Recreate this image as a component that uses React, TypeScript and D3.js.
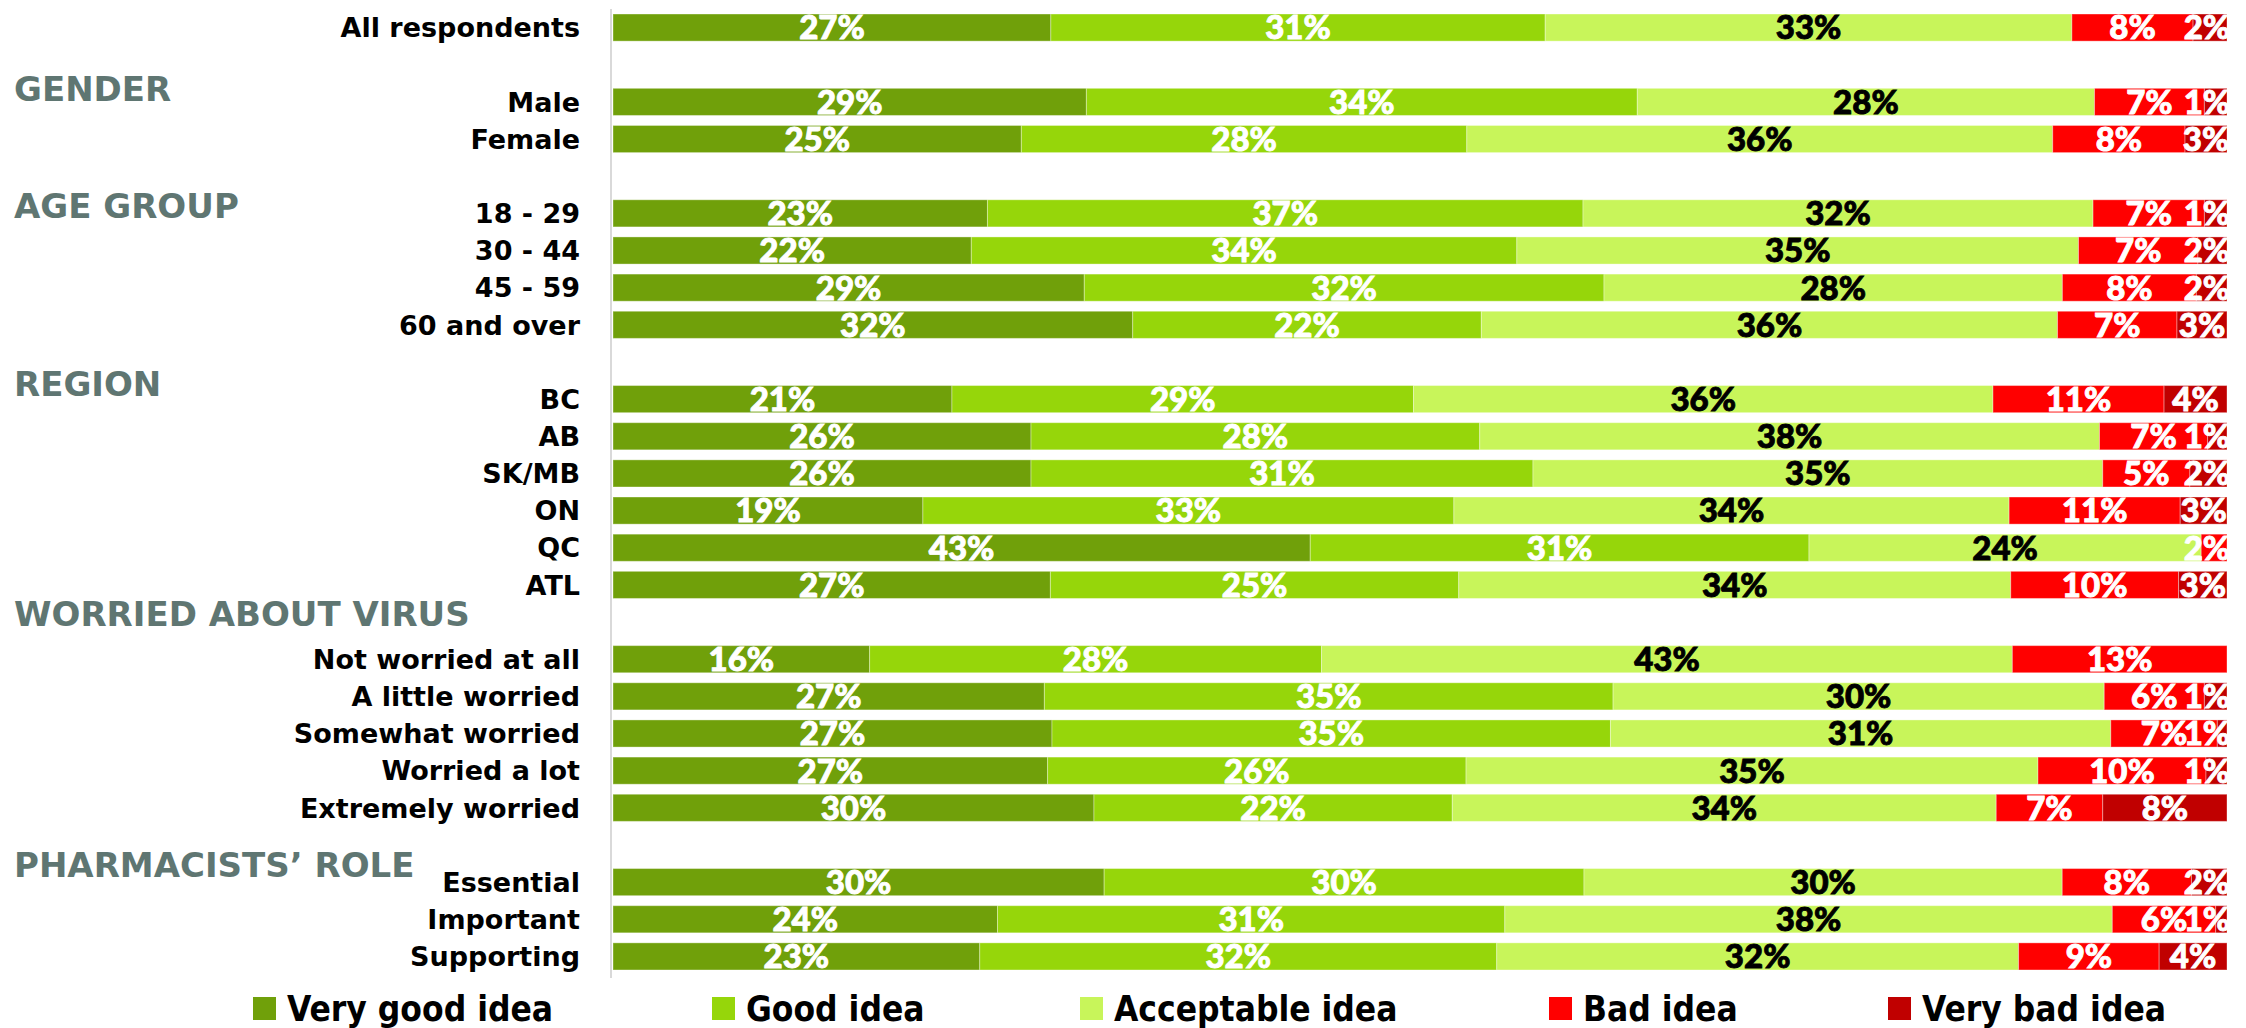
import React from 'react';
import * as d3 from 'd3';

// ---------- DATA ----------
// null = empty spacer row (section header rows)
const categories: (string | null)[] = [
  'All respondents', null, 'Male', 'Female', null,
  '18 - 29', '30 - 44', '45 - 59', '60 and over', null,
  'BC', 'AB', 'SK/MB', 'ON', 'QC', 'ATL', null,
  'Not worried at all', 'A little worried', 'Somewhat worried', 'Worried a lot', 'Extremely worried', null,
  'Essential', 'Important', 'Supporting',
];

const veryGood = [27.1, null, 29.3, 25.3, null, 23.2, 22.2, 29.2, 32.2, null, 21.0, 25.9, 25.9, 19.2, 43.2, 27.1, null, 15.9, 26.7, 27.2, 26.9, 29.8, null, 30.4, 23.8, 22.7];
const good = [30.6, null, 34.1, 27.6, null, 36.9, 33.8, 32.2, 21.6, null, 28.6, 27.8, 31.1, 32.9, 30.9, 25.3, null, 28.0, 35.2, 34.6, 25.9, 22.2, null, 29.7, 31.4, 32.0];
const acceptable = [32.6, null, 28.3, 36.3, null, 31.6, 34.8, 28.4, 35.7, null, 35.9, 38.4, 35.3, 34.4, 24.3, 34.2, null, 42.8, 30.4, 31.0, 35.4, 33.7, null, 29.6, 37.6, 32.3];
const bad = [7.5, null, 6.8, 8.2, null, 6.9, 7.4, 8.3, 7.4, null, 10.6, 6.7, 5.4, 10.6, 1.6, 10.4, null, 13.3, 6.2, 6.6, 10.4, 6.6, null, 8.0, 6.4, 8.7];
const veryBad = [2.1, null, 1.4, 2.6, null, 1.4, 1.8, 1.9, 3.1, null, 3.9, 1.2, 2.3, 2.9, 0, 3.0, null, 0, 1.4, 0.6, 1.3, 7.7, null, 2.2, 0.7, 4.2];

const seriesNames = ['Very good idea', 'Good idea', 'Acceptable idea', 'Bad idea', 'Very bad idea'];
const seriesValues = [veryGood, good, acceptable, bad, veryBad];

// section headers: label and position (in row units from the first row)
const headers = [
  { label: 'GENDER', at: 1.66 },
  { label: 'AGE GROUP', at: 4.8 },
  { label: 'REGION', at: 9.6 },
  { label: 'WORRIED ABOUT VIRUS', at: 15.78 },
  { label: 'PHARMACISTS\u2019 ROLE', at: 22.54 },
];

// ---------- STYLE / LAYOUT ----------
const colors = ['#70A00A', '#96D60A', '#C8F55A', '#FF0000', '#C00000'];
const textColors = ['#ffffff', '#ffffff', '#000000', '#ffffff', '#ffffff'];
const W = 2246;
const H = 1028;
const plotLeft = 613;
const plotRight = 2227;
const plotTop = 9;
const plotBottom = 975;
const legendX = [253, 712, 1080, 1549, 1888];
const legendY = 1008;
const FONT = "'DejaVu Sans', 'Open Sans', sans-serif";
const LABEL_FONT = "Lato, 'Open Sans', sans-serif";

export default function App() {
  const rows = categories.map((c, i) => ({ idx: i, name: c }));
  const y = d3
    .scaleBand<number>()
    .domain(rows.map((r) => r.idx))
    .range([plotTop, plotBottom])
    .paddingInner(0.27)
    .paddingOuter(0.135);
  const x = d3.scaleLinear().domain([0, 1]).range([plotLeft, plotRight]);

  const table = rows
    .filter((r) => r.name !== null)
    .map((r) => {
      const o: any = { idx: r.idx, name: r.name };
      seriesNames.forEach((s, k) => (o[s] = seriesValues[k][r.idx] as number));
      return o;
    });
  const stacked = d3.stack<any>().keys(seriesNames).offset(d3.stackOffsetExpand)(table);

  const bw = y.bandwidth();
  const step = y.step();
  const firstCenter = (y(0) as number) + bw / 2;
  const labelSize = 33;

  return (
    <svg width={W} height={H} style={{ position: 'absolute', left: 0, top: 0, background: '#fff' }}>
      <defs>
        <clipPath id="plotClip">
          <rect x={0} y={0} width={plotRight + 1} height={H} />
        </clipPath>
      </defs>
      {/* axis line */}
      <line x1={plotLeft - 2} x2={plotLeft - 2} y1={plotTop} y2={plotBottom + 3} stroke="#d9d9d9" strokeWidth={2} />

      {/* bars */}
      {stacked.map((layer, k) => (
        <g key={layer.key} fill={colors[k]}>
          {layer.map((d) => {
            const v = d.data[layer.key as string];
            if (!v) return null;
            return (
              <rect
                key={d.data.idx}
                x={x(d[0])}
                y={y(d.data.idx)}
                width={Math.max(0, x(d[1]) - x(d[0]))}
                height={bw}
                stroke="rgba(255,255,255,0.35)"
                strokeWidth={1}
              />
            );
          })}
        </g>
      ))}

      {/* data labels */}
      <g clipPath="url(#plotClip)" fontFamily={LABEL_FONT} fontWeight={900} fontSize={labelSize} textAnchor="middle">
        {stacked.map((layer, k) =>
          layer.map((d) => {
            const v = d.data[layer.key as string];
            if (!v) return null;
            const txt = Math.round(v) + '%';
            const estW = labelSize * (0.58 * (txt.length - 1) + 0.82);
            let cx = (x(d[0]) + x(d[1])) / 2;
            cx = Math.min(cx, plotRight + 3 - estW / 2);
            return (
              <text
                key={layer.key + d.data.idx}
                x={cx}
                y={(y(d.data.idx) as number) + bw / 2}
                dy="0.36em"
                fill={textColors[k]}
                stroke={textColors[k]}
                strokeWidth={0.9}
              >
                {txt}
              </text>
            );
          })
        )}
      </g>

      {/* category labels */}
      <g fontFamily={FONT} fontWeight={700} fontSize={27} textAnchor="end" fill="#000">
        {rows
          .filter((r) => r.name !== null)
          .map((r) => (
            <text key={r.idx} x={plotLeft - 33} y={(y(r.idx) as number) + bw / 2} dy="0.36em">
              {r.name}
            </text>
          ))}
      </g>

      {/* section headers */}
      <g fontFamily={FONT} fontWeight={700} fontSize={34} fill="#5F7672">
        {headers.map((h) => (
          <text key={h.label} x={14} y={firstCenter + h.at * step} dy="0.36em">
            {h.label}
          </text>
        ))}
      </g>

      {/* legend */}
      <g fontFamily={FONT} fontWeight={700} fontSize={35} style={{ fontStretch: 'condensed' }}>
        {seriesNames.map((s, k) => (
          <g key={s}>
            <rect x={legendX[k]} y={legendY - 11} width={23} height={23} fill={colors[k]} />
            <text x={legendX[k] + 34} y={legendY} dy="0.36em" fill="#000">
              {s}
            </text>
          </g>
        ))}
      </g>
    </svg>
  );
}
